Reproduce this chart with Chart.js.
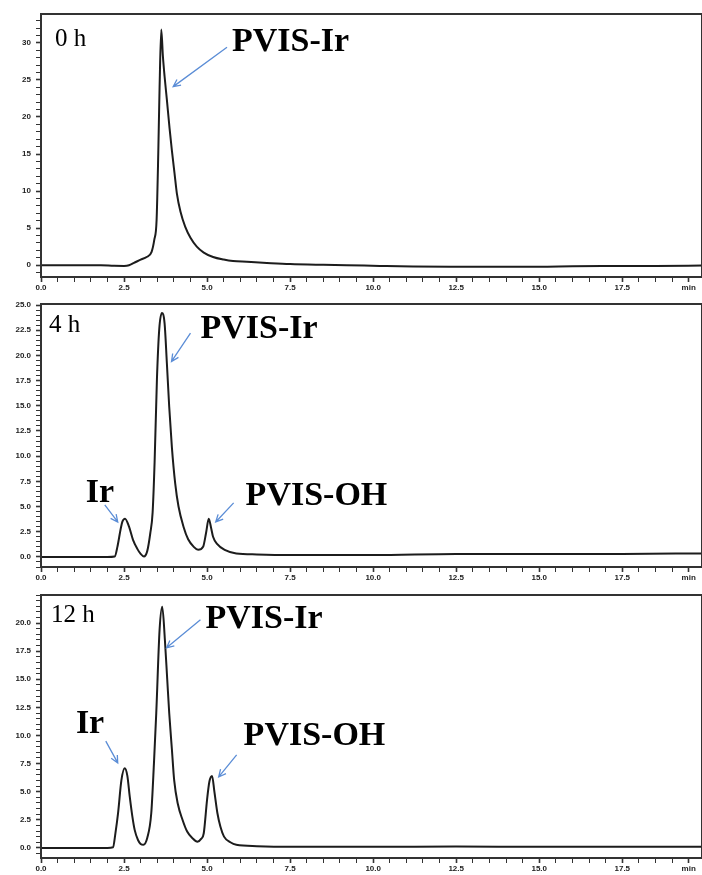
<!DOCTYPE html>
<html>
<head>
<meta charset="utf-8">
<title>HPLC traces</title>
<script src="https://cdn.jsdelivr.net/npm/chart.js@4.4.0/dist/chart.umd.min.js"></script>
<style>
    html, body { margin: 0; padding: 0; background: #fff; overflow: hidden; }
    .panel { position: absolute; left: 0; width: 702px; height: 297px; }
</style>
</head>
<body>
<div class="panel" style="top:0px"><canvas id="chart0h"></canvas></div>
<div class="panel" style="top:290px"><canvas id="chart4h"></canvas></div>
<div class="panel" style="top:581px"><canvas id="chart12h"></canvas></div>
<script>
//********************************************************************************//
//                            Data
//********************************************************************************//
const xMajorTicks = [0, 2.5, 5, 7.5, 10, 12.5, 15, 17.5, 19.5];
const xTickLabels = ['0.0', '2.5', '5.0', '7.5', '10.0', '12.5', '15.0', '17.5', 'min'];

// 0 h
const time0h = [0, 1.0, 1.8, 2.2, 2.5, 2.65, 2.8, 3.0, 3.18, 3.33, 3.41, 3.48, 3.53, 3.57, 3.62, 3.67, 3.72, 3.79, 3.87, 3.94, 4.02, 4.09, 4.2, 4.34, 4.5, 4.69, 4.9, 5.18, 5.5, 5.78, 6.2, 6.8, 7.5, 8.5, 9.2, 10.2, 11.2, 12.5, 14.0, 15.0, 16.0, 17.5, 18.5, 19.9];
const signal0h = [0, 0, 0, -0.08, -0.1, -0.02, 0.3, 0.75, 1.1, 1.8, 3.4, 6.1, 15, 24, 31.8, 28.2, 25.5, 22.3, 18.5, 15.5, 12.4, 9.7, 7.2, 5.2, 3.7, 2.5, 1.7, 1.1, 0.75, 0.55, 0.45, 0.3, 0.15, 0.05, 0, -0.1, -0.18, -0.2, -0.2, -0.2, -0.15, -0.12, -0.1, -0.05];
const yTicks0h = [0, 5, 10, 15, 20, 25, 30];
const yTickLabels0h = ['0', '5', '10', '15', '20', '25', '30'];

// 4 h
const time4h = [0, 1.0, 2.0, 2.22, 2.3, 2.4, 2.45, 2.53, 2.65, 2.77, 2.9, 3.0, 3.1, 3.2, 3.29, 3.36, 3.42, 3.49, 3.56, 3.64, 3.72, 3.79, 3.86, 3.94, 4.04, 4.14, 4.29, 4.43, 4.6, 4.73, 4.88, 4.97, 5.05, 5.12, 5.18, 5.3, 5.53, 5.88, 6.5, 7.5, 10, 12.5, 15, 17.5, 19.9];
const signal4h = [0, 0, 0, 0.05, 1.0, 2.8, 3.5, 3.8, 3.0, 1.7, 0.8, 0.3, 0.05, 0.6, 2.35, 4.4, 9.4, 17.6, 22.6, 24.2, 23.2, 19.2, 14.9, 10.9, 7.3, 5.0, 3.0, 1.75, 1.0, 0.7, 1.0, 2.4, 3.8, 2.9, 2.0, 1.3, 0.7, 0.35, 0.25, 0.2, 0.2, 0.3, 0.3, 0.3, 0.35];
const yTicks4h = [0, 2.5, 5, 7.5, 10, 12.5, 15, 17.5, 20, 22.5, 25];
const yTickLabels4h = ['0.0', '2.5', '5.0', '7.5', '10.0', '12.5', '15.0', '17.5', '20.0', '22.5', '25.0'];

// 12 h
const time12h = [0, 1.0, 2.0, 2.17, 2.24, 2.32, 2.42, 2.52, 2.6, 2.67, 2.75, 2.82, 2.92, 3.0, 3.08, 3.2, 3.32, 3.4, 3.47, 3.57, 3.65, 3.73, 3.8, 3.86, 3.94, 4.01, 4.12, 4.26, 4.4, 4.56, 4.71, 4.82, 4.9, 5.0, 5.07, 5.15, 5.22, 5.31, 5.4, 5.51, 5.7, 5.88, 6.5, 7.5, 10, 12.5, 15, 17.5, 19.9];
const signal12h = [0, 0, 0, 0.05, 1.3, 3.1, 6.0, 7.08, 6.4, 4.6, 2.8, 1.6, 0.7, 0.35, 0.27, 0.9, 3.1, 7.5, 12, 19.4, 21.45, 18.5, 15.0, 12, 8.8, 6.0, 3.9, 2.5, 1.45, 0.86, 0.55, 0.8, 1.3, 4.3, 5.9, 6.4, 5.0, 3.1, 1.9, 1.0, 0.5, 0.27, 0.15, 0.1, 0.1, 0.12, 0.1, 0.1, 0.1];
const yTicks12h = [0, 2.5, 5, 7.5, 10, 12.5, 15, 17.5, 20];
const yTickLabels12h = ['0.0', '2.5', '5.0', '7.5', '10.0', '12.5', '15.0', '17.5', '20.0'];

// notes: text anchored at data coordinates, arrow from -> to
const notes0h = [
    { text: '0 h', x: 0.42, y: 29.6, serif: true },
    { text: 'PVIS-Ir', x: 5.75, y: 28.9, from: [5.6, 29.4], to: [3.98, 24.1] }
];
const notes4h = [
    { text: '4 h', x: 0.24, y: 22.3, serif: true },
    { text: 'PVIS-Ir', x: 4.8, y: 21.7, from: [4.5, 22.2], to: [3.93, 19.4] },
    { text: 'Ir', x: 1.35, y: 5.45, from: [1.92, 5.16], to: [2.31, 3.47] },
    { text: 'PVIS-OH', x: 6.16, y: 5.16, from: [5.8, 5.36], to: [5.26, 3.47] }
];
const notes12h = [
    { text: '12 h', x: 0.3, y: 20.1, serif: true },
    { text: 'PVIS-Ir', x: 4.95, y: 19.6, from: [4.8, 20.3], to: [3.78, 17.8] },
    { text: 'Ir', x: 1.05, y: 10.2, from: [1.95, 9.5], to: [2.31, 7.56] },
    { text: 'PVIS-OH', x: 6.1, y: 9.16, from: [5.89, 8.27], to: [5.35, 6.31] }
];

var Traces = function () {

    //********************************************************************************//
    //                            Helpers
    //********************************************************************************//
    var tickFont = { family: "'Liberation Sans', Arial, sans-serif", size: 8, weight: 'bold' };

    var stepTicks = function (min, max, step) {
        var out = [];
        for (var i = Math.ceil(min / step - 1e-9); i * step <= max + 1e-9; i++) {
            out.push(Math.round(i * step * 1000) / 1000);
        }
        return out;
    };

    var findLabel = function (values, labels, v) {
        for (var i = 0; i < values.length; i++) {
            if (Math.abs(values[i] - v) < 1e-6) return labels[i];
        }
        return '';
    };

    var boxPlugin = {
        id: 'box',
        afterDraw: function (chart) {
            var a = chart.chartArea, ctx = chart.ctx;
            ctx.save();
            ctx.strokeStyle = '#333';
            ctx.lineWidth = 2;
            ctx.strokeRect(a.left, a.top, a.right - a.left, a.bottom - a.top);
            ctx.restore();
        }
    };

    var notesPlugin = {
        id: 'notes',
        afterDraw: function (chart, args, opts) {
            var ctx = chart.ctx, xs = chart.scales.x, ys = chart.scales.y;
            ctx.save();
            (opts.items || []).forEach(function (n) {
                if (n.from) {
                    var x1 = xs.getPixelForValue(n.from[0]), y1 = ys.getPixelForValue(n.from[1]);
                    var x2 = xs.getPixelForValue(n.to[0]), y2 = ys.getPixelForValue(n.to[1]);
                    var ang = Math.atan2(y2 - y1, x2 - x1), head = 8;
                    ctx.strokeStyle = '#5b8dd6';
                    ctx.lineWidth = 1.3;
                    ctx.beginPath();
                    ctx.moveTo(x1, y1);
                    ctx.lineTo(x2, y2);
                    ctx.moveTo(x2 - head * Math.cos(ang - 0.45), y2 - head * Math.sin(ang - 0.45));
                    ctx.lineTo(x2, y2);
                    ctx.lineTo(x2 - head * Math.cos(ang + 0.45), y2 - head * Math.sin(ang + 0.45));
                    ctx.stroke();
                }
                ctx.fillStyle = '#000';
                ctx.textAlign = 'left';
                ctx.textBaseline = 'alphabetic';
                ctx.font = n.serif ? "25px 'Liberation Serif', 'Times New Roman', serif"
                                   : "bold 34px 'Liberation Serif', 'Times New Roman', serif";
                ctx.fillText(n.text, xs.getPixelForValue(n.x), ys.getPixelForValue(n.y));
            });
            ctx.restore();
        }
    };

    var buildChart = function (id, times, signals, yMin, yMax, yMinor, yMajors, yLabels, notes) {
        var xMinor = stepTicks(0, 19.5, 0.5);
        var yMinorList = stepTicks(yMin, yMax, yMinor);
        var points = times.map(function (t, i) { return { x: t, y: signals[i] }; });

        var isMajor = function (values) {
            return function (c) {
                return c.tick && findLabel(values, values, c.tick.value) !== '' ? 1.6 : 1;
            };
        };

        return new Chart(document.getElementById(id), {
            type: 'line',
            data: {
                datasets: [{
                    data: points,
                    borderColor: '#1c1c1c',
                    borderWidth: 2,
                    pointRadius: 0,
                    fill: false,
                    cubicInterpolationMode: 'monotone'
                }]
            },
            options: {
                responsive: true,
                maintainAspectRatio: false,
                animation: false,
                events: [],
                layout: { padding: { top: 14, right: 0, left: 0, bottom: 0 } },
                plugins: {
                    legend: { display: false },
                    tooltip: { enabled: false },
                    notes: { items: notes }
                },
                scales: {
                    x: {
                        type: 'linear',
                        min: 0,
                        max: 19.9,
                        border: { display: false },
                        grid: { drawOnChartArea: false, drawTicks: true, tickLength: 5,
                                tickColor: '#333', tickWidth: isMajor(xMajorTicks) },
                        afterBuildTicks: function (scale) {
                            scale.ticks = xMinor.map(function (v) { return { value: v }; });
                        },
                        afterFit: function (scale) { scale.height = 20; },
                        ticks: {
                            autoSkip: false,
                            maxRotation: 0,
                            padding: 1,
                            color: '#222',
                            font: tickFont,
                            callback: function (v) { return findLabel(xMajorTicks, xTickLabels, v); }
                        }
                    },
                    y: {
                        type: 'linear',
                        min: yMin,
                        max: yMax,
                        border: { display: false },
                        grid: { drawOnChartArea: false, drawTicks: true, tickLength: 5,
                                tickColor: '#333', tickWidth: isMajor(yMajors) },
                        afterBuildTicks: function (scale) {
                            scale.ticks = yMinorList.map(function (v) { return { value: v }; });
                        },
                        afterFit: function (scale) { scale.width = 41; },
                        ticks: {
                            autoSkip: false,
                            padding: 5,
                            color: '#222',
                            font: tickFont,
                            callback: function (v) { return findLabel(yMajors, yLabels, v); }
                        }
                    }
                }
            },
            plugins: [boxPlugin, notesPlugin]
        });
    };

    //********************************************************************************//
    //                            Initializations
    //********************************************************************************//
    var initCharts = function () {
        buildChart('chart0h', time0h, signal0h, -1.6, 33.9, 1, yTicks0h, yTickLabels0h, notes0h);
        buildChart('chart4h', time4h, signal4h, -1.0, 25.1, 0.5, yTicks4h, yTickLabels4h, notes4h);
        buildChart('chart12h', time12h, signal12h, -0.9, 22.5, 0.5, yTicks12h, yTickLabels12h, notes12h);
    };

    return {
        init: function () {
            initCharts();
        },
    };
}();

window.addEventListener('load', function () {
    Traces.init();
});
</script>
</body>
</html>
